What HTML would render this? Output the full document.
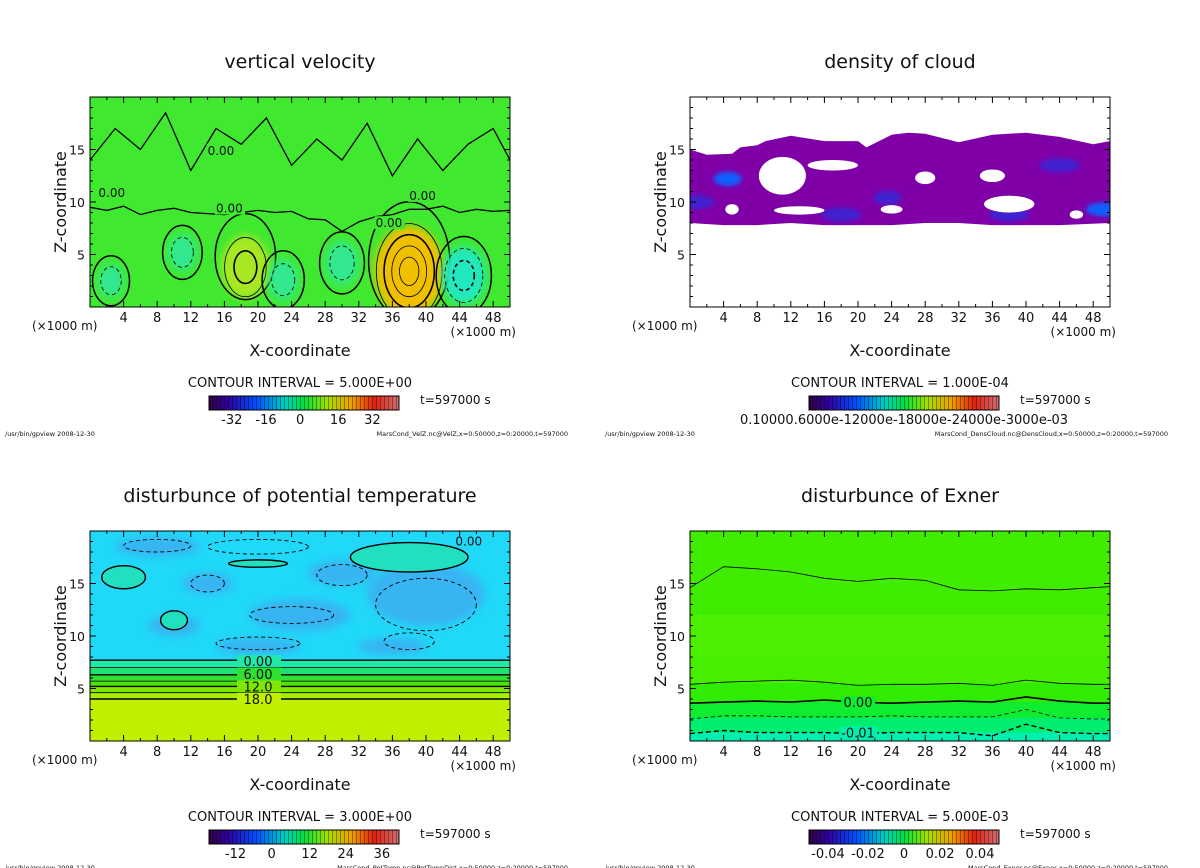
<!DOCTYPE html>
<html><head><meta charset="utf-8">
<style>
body{margin:0;background:#fff;width:1200px;height:868px;overflow:hidden;font-family:"Liberation Sans","DejaVu Sans",sans-serif;}
svg{display:block}
text{font-family:"DejaVu Sans","Liberation Sans",sans-serif;fill:#111}
</style></head>
<body>
<svg id="s" width="1200" height="868" xmlns="http://www.w3.org/2000/svg">
<defs>
<filter id="blur4" x="-50%" y="-50%" width="200%" height="200%"><feGaussianBlur stdDeviation="4"/></filter>
<filter id="blur2" x="-50%" y="-50%" width="200%" height="200%"><feGaussianBlur stdDeviation="2"/></filter>
<linearGradient id="rainbow" x1="0" x2="1" y1="0" y2="0">
<stop offset="0" stop-color="#300040"/><stop offset="0.1" stop-color="#3000a0"/><stop offset="0.25" stop-color="#0050ff"/>
<stop offset="0.4" stop-color="#00d0c0"/><stop offset="0.5" stop-color="#00e040"/><stop offset="0.62" stop-color="#a0e000"/>
<stop offset="0.75" stop-color="#f0a000"/><stop offset="0.87" stop-color="#e02010"/><stop offset="1" stop-color="#d07070"/>
</linearGradient>
<pattern id="stripes" width="4" height="14" patternUnits="userSpaceOnUse"><rect x="0" y="0" width="1" height="14" fill="#000" opacity="0.35"/></pattern>
<clipPath id="c0"><rect x="90" y="97" width="420" height="210"/></clipPath>
<clipPath id="c1"><rect x="690" y="97" width="420" height="210"/></clipPath>
<clipPath id="c2"><rect x="90" y="531" width="420" height="210"/></clipPath>
<clipPath id="c3"><rect x="690" y="531" width="420" height="210"/></clipPath>
</defs>
</svg>
<script>
// ---- data ----
const xTicks=[4,8,12,16,20,24,28,32,36,40,44,48];
const zTicks=[5,10,15];
const titles=["vertical velocity","density of cloud","disturbunce of potential temperature","disturbunce of Exner"];
const intervals=["CONTOUR INTERVAL = 5.000E+00","CONTOUR INTERVAL = 1.000E-04","CONTOUR INTERVAL = 3.000E+00","CONTOUR INTERVAL = 5.000E-03"];
const cbLabels=[["-32","-16","0","16","32"],["0.10000.6000e-12000e-18000e-24000e-3000e-03"],["-12","0","12","24","36"],["-0.04","-0.02","0","0.02","0.04"]];
const cbLabelPos=[[0.12,0.3,0.48,0.68,0.86],[0.5],[0.14,0.33,0.53,0.72,0.91],[0.1,0.31,0.5,0.69,0.9]];
const footers=["MarsCond_VelZ.nc@VelZ,x=0:50000,z=0:20000,t=597000","MarsCond_DensCloud.nc@DensCloud,x=0:50000,z=0:20000,t=597000","MarsCond_PotTemp.nc@PotTempDist,x=0:50000,z=0:20000,t=597000","MarsCond_Exner.nc@Exner,x=0:50000,z=0:20000,t=597000"];
const wX=[18.5,38,44.5,30,23,11,2.5];
const wZ=[3.8,3.4,3.0,4.2,2.6,5.2,2.5];
const wV=[14,22,-12,-8,-7,-6,-5];
const holeX=[11,17,28,5,13,24,38,36,46];
const holeZ=[12.5,13.5,12.3,9.3,9.2,9.3,9.8,12.5,8.8];
const denseX=[4.5,23.5,44,49.5,18,38,0.5];
const denseZ=[12.2,10.4,13.5,9.3,8.8,8.8,10];
const ptLevels=[7.7,7.0,6.3,5.7,5.2,4.6,4.0];
const ptLabels=["0.00","6.00","12.0","18.0"];
const ptLabelZ=[7.6,6.4,5.2,4.0];
const exX=[0,4,8,12,16,20,24,28,32,36,40,44,48,50];
const ex15=[14.6,16.6,16.4,16.1,15.5,15.2,15.5,15.3,14.4,14.3,14.5,14.4,14.6,14.7];
const ex55=[5.4,5.6,5.7,5.8,5.6,5.3,5.4,5.4,5.5,5.3,5.8,5.5,5.4,5.4];
const ex0=[3.6,3.7,3.8,3.7,3.9,3.7,3.6,3.7,3.8,3.7,4.2,3.8,3.6,3.6];
const exm1=[2.1,2.4,2.4,2.3,2.3,2.3,2.4,2.3,2.3,2.3,3.0,2.2,2.1,2.1];
const exm2=[0.7,1.0,0.8,0.8,0.8,0.7,0.8,0.8,0.8,0.5,1.6,0.8,0.7,0.7];
const islX=[38,20,4,10];const islZ=[17.5,16.9,15.6,11.5];const islRX=[7,3.5,2.6,1.6];const islRZ=[1.4,0.35,1.1,0.9];
const w0X=[0,2,4,6,8,10,12,14,16,18,20,22,24,26,28,30,32,34,36,38,40,42,44,46,48,50];
const w0Z=[9.5,9.2,9.6,8.8,9.2,9.4,9.0,8.9,8.8,9.0,9.2,9.0,9.1,8.4,8.3,7.2,8.1,8.6,8.8,9.3,9.3,9.6,9.0,9.3,9.1,9.2];
const wuX=[0,3,6,9,12,15,18,21,24,27,30,33,36,39,42,45,48,50];
const wuZ=[14,17,15,18.5,13,17,15.5,18,13.5,16,14,17.5,12.5,16,13,15.5,17,14];

const NS="http://www.w3.org/2000/svg";
const svg=document.getElementById('s');
function el(tag,attrs,parent){const e=document.createElementNS(NS,tag);for(const k in attrs)e.setAttribute(k,attrs[k]);(parent||svg).appendChild(e);return e;}
const OX=[0,600,0,600],OY=[0,0,434,434];
function X(p,x){return OX[p]+90+x*8.4;}
function Z(p,z){return OY[p]+307-z*10.5;}
function line(p,xs,zs){return xs.map((x,i)=>(i?'L':'M')+X(p,x).toFixed(1)+','+Z(p,zs[i]).toFixed(1)).join(' ');}

for(let p=0;p<4;p++){
  const g=el('g',{});
  
  
  const plot=el('g',{'clip-path':'url(#c'+p+')'},g);
  
  
  if(p===0){
    el('rect',{x:X(p,0),y:Z(p,20),width:420,height:215,fill:'#40e830'},plot);
    for(let i=0;i<wX.length;i++){
      const v=wV[i];const col=v>0?(v>18?'#f0c000':'#a8e820'):(v<-10?'#20e8c0':'#30e890');
      const e=el('ellipse',{cx:X(p,wX[i]),cy:Z(p,wZ[i]),rx:Math.abs(v)*1.3+6,ry:Math.abs(v)*1.7+8,fill:col,filter:'url(#blur4)'},plot);
      
      const levels=Math.floor(Math.abs(v)/5);
      for(let k=0;k<=levels;k++){
        const f=1-k/(levels+1);
        const c=el('ellipse',{cx:X(p,wX[i]),cy:Z(p,wZ[i]+(k===0&&v>0?1:0)),rx:(Math.abs(v)*1.3+10)*f+2,ry:(Math.abs(v)*2.0+12)*f+3,fill:'none',stroke:'#000','stroke-width':k===0?1.5:(k==2?1.6:0.8),'stroke-dasharray':(v<0&&k>0)?'4,3':'none'},plot);
        
      }
    }
    el('path',{d:line(p,w0X,w0Z),fill:'none',stroke:'#000','stroke-width':1.3},plot);
    el('path',{d:line(p,wuX,wuZ),fill:'none',stroke:'#000','stroke-width':1.3},plot);
    [['0.00',15,9.0],['0.00',34,7.6],['0.00',38,10.2],['0.00',14,14.5],['0.00',1,10.5]].forEach(t=>{el('rect',{x:X(p,t[1])-1,y:Z(p,t[2])-11,width:30,height:13,fill:'#40e830'},plot);const tt=el('text',{x:X(p,t[1]),y:Z(p,t[2]),'font-size':12},plot);tt.textContent=t[0];});
  }
  if(p===1){
    el('rect',{x:X(p,0),y:Z(p,20),width:420,height:215,fill:'#fff'},plot);
    el('path',{d:line(p,[0,0,2,5,6,8,9,12,16,20,21,24,26,28,32,36,40,44,48,50,50,44,40,36,32,28,24,20,16,12,8,4,0],[8,15,14.5,14.6,15.2,15.4,15.8,16.3,15.8,15.8,15.2,16.4,16.6,16.5,15.7,16.4,16.6,16.2,15.5,15.8,8,7.8,7.8,7.8,8,8,7.8,7.8,7.8,8,7.8,7.8,8]),fill:'#8000a8'},plot);
    for(let i=0;i<denseX.length;i++){
      const d=el('ellipse',{cx:X(p,denseX[i]),cy:Z(p,denseZ[i]),rx:i<2?14:20,ry:7,fill:i===0||i===3?'#1060ff':'#4020d0',filter:'url(#blur2)'},plot);
      
    }
    const rxh=[2.8,3,1.2,0.8,3,1.3,3,1.5,0.8],rzh=[1.8,0.5,0.6,0.5,0.4,0.4,0.8,0.6,0.4];
    for(let i=0;i<holeX.length;i++){
      const h=el('ellipse',{cx:X(p,holeX[i]),cy:Z(p,holeZ[i]),rx:rxh[i]*8.4,ry:rzh[i]*10.5,fill:'#fff'},plot);
      
    }
  }
  if(p===2){
    el('rect',{x:X(p,0),y:Z(p,20),width:420,height:215,fill:'#20d8f8'},plot);
    [[8,18.5,5,0.9],[14,15,3,1],[25,12,6,1.5],[40,14,7,3],[30,16,4,1.2],[20,9,5,0.8],[10,11,3,1],[36,9,4,0.8]].forEach(b=>{el('ellipse',{cx:X(p,b[0]),cy:Z(p,b[1]),rx:b[2]*8.4,ry:b[3]*10.5,fill:'#40a8f0',opacity:0.75,filter:'url(#blur4)'},plot);});
    const cols=['#20e8a8','#20e070','#30e030','#50e010','#80e800','#a8ee00','#c0f000'];
    for(let i=0;i<ptLevels.length;i++){
      const b=el('rect',{x:X(p,0),y:Z(p,ptLevels[i]),width:420,height:Z(p,0)-Z(p,ptLevels[i])+5,fill:cols[i]},plot);
      
    }
    for(let i=0;i<ptLevels.length;i++){
      el('line',{x1:X(p,0),x2:X(p,50),y1:Z(p,ptLevels[i]),y2:Z(p,ptLevels[i]),stroke:'#000','stroke-width':i%2===0?1.4:0.8},plot);
    }
    for(let i=0;i<ptLabels.length;i++){
      el('rect',{x:X(p,17.5),y:Z(p,ptLabelZ[i])-6,width:44,height:12,fill:cols[i*2]},plot);
      const t=el('text',{x:X(p,20),y:Z(p,ptLabelZ[i])+5,'font-size':13,'text-anchor':'middle'},plot);t.textContent=ptLabels[i];
    }
    for(let i=0;i<islX.length;i++){
      const c=el('ellipse',{cx:X(p,islX[i]),cy:Z(p,islZ[i]),rx:islRX[i]*8.4,ry:islRZ[i]*10.5,fill:'#20e0c0',stroke:'#000','stroke-width':1.4},plot);
      
    }
    [[20,18.5,6,0.7],[14,15,2,0.8],[24,12,5,0.8],[40,13,6,2.5],[30,15.8,3,1],[20,9.3,5,0.6],[38,9.5,3,0.8],[8,18.6,4,0.6]].forEach(b=>{el('ellipse',{cx:X(p,b[0]),cy:Z(p,b[1]),rx:b[2]*8.4,ry:b[3]*10.5,fill:'none',stroke:'#000','stroke-width':0.9,'stroke-dasharray':'4,3'},plot);});
    const t=el('text',{x:X(p,43.5),y:Z(p,18.6),'font-size':12},plot);t.textContent='0.00';
  }
  if(p===3){
    const bands=[[20,'#40ec00'],[12,'#4cf000'],[8,'#48ee00'],[5.5,'#30ec00'],[3.7,'#10ec30'],[2.2,'#00ee70'],[0.8,'#00f0b0']];
    bands.forEach(b=>{el('rect',{x:X(p,0),y:Z(p,b[0]),width:420,height:Z(p,0)-Z(p,b[0])+5,fill:b[1]},plot);});
    el('path',{d:line(p,exX,ex15),fill:'none',stroke:'#000','stroke-width':0.8},plot);
    el('path',{d:line(p,exX,ex55),fill:'none',stroke:'#000','stroke-width':0.8},plot);
    const l0=el('path',{d:line(p,exX,ex0),fill:'none',stroke:'#000','stroke-width':1.6},plot);
    
    el('path',{d:line(p,exX,exm1),fill:'none',stroke:'#000','stroke-width':0.8,'stroke-dasharray':'4,3'},plot);
    el('path',{d:line(p,exX,exm2),fill:'none',stroke:'#000','stroke-width':1.4,'stroke-dasharray':'5,3'},plot);
    el('rect',{x:X(p,18),y:Z(p,3.7)-6,width:34,height:12,fill:'#10ec30'},plot);
    let t=el('text',{x:X(p,20),y:Z(p,3.7)+5,'font-size':13,'text-anchor':'middle'},plot);t.textContent='0.00';
    el('rect',{x:X(p,18),y:Z(p,0.8)-6,width:36,height:12,fill:'#00f0b0'},plot);
    t=el('text',{x:X(p,20),y:Z(p,0.8)+5,'font-size':13,'text-anchor':'middle'},plot);t.textContent='-0.01';
  }
  const fr=el('rect',{x:X(p,0),y:Z(p,20),width:420,height:210,fill:'none',stroke:'#000','stroke-width':1},g);
  
  for(let x=2;x<50;x+=2){const L=x%4===0?6:3;
    el('line',{x1:X(p,x),x2:X(p,x),y1:OY[p]+307,y2:OY[p]+307-L,stroke:'#000'},g);
    el('line',{x1:X(p,x),x2:X(p,x),y1:OY[p]+97,y2:OY[p]+97+L,stroke:'#000'},g);}
  for(let z=1;z<20;z++){const L=z%5===0?6:3;
    el('line',{x1:X(p,0),x2:X(p,0)+L,y1:Z(p,z),y2:Z(p,z),stroke:'#000'},g);
    el('line',{x1:X(p,50),x2:X(p,50)-L,y1:Z(p,z),y2:Z(p,z),stroke:'#000'},g);}
  xTicks.forEach(x=>{const t=el('text',{x:X(p,x),y:OY[p]+322,'font-size':13,'text-anchor':'middle'},g);t.textContent=x;});
  zTicks.forEach(z=>{const t=el('text',{x:OX[p]+85,y:Z(p,z)+5,'font-size':12.5,'text-anchor':'end'},g);t.textContent=z;});
  let t=el('text',{x:OX[p]+32,y:OY[p]+330,'font-size':12},g);t.textContent='(×1000 m)';
  t=el('text',{x:OX[p]+516,y:OY[p]+336,'font-size':12,'text-anchor':'end'},g);t.textContent='(×1000 m)';
  t=el('text',{x:OX[p]+300,y:OY[p]+356,'font-size':16,'text-anchor':'middle'},g);t.textContent='X-coordinate';
  t=el('text',{x:OX[p]+66,y:OY[p]+202,'font-size':16,'text-anchor':'middle',transform:'rotate(-90 '+(OX[p]+66)+' '+(OY[p]+202)+')'},g);t.textContent='Z-coordinate';
  t=el('text',{x:OX[p]+300,y:OY[p]+68,'font-size':19,'text-anchor':'middle'},g);t.textContent=titles[p];
  t=el('text',{x:OX[p]+300,y:OY[p]+387,'font-size':13,'text-anchor':'middle'},g);t.textContent=intervals[p];
  const cb=el('g',{},g);
  el('rect',{x:OX[p]+209,y:OY[p]+396,width:190,height:14,fill:'url(#rainbow)'},cb);
  el('rect',{x:OX[p]+209,y:OY[p]+396,width:190,height:14,fill:'url(#stripes)'},cb);
  el('rect',{x:OX[p]+209,y:OY[p]+396,width:190,height:14,fill:'none',stroke:'#000'},cb);
  cbLabels[p].forEach((s,i)=>{const tt=el('text',{x:OX[p]+209+190*cbLabelPos[p][i],y:OY[p]+424,'font-size':13,'text-anchor':'middle'},cb);tt.textContent=s;});
  t=el('text',{x:OX[p]+420,y:OY[p]+404,'font-size':12},g);t.textContent='t=597000 s';
  t=el('text',{x:OX[p]+5,y:OY[p]+436,'font-size':6.5},g);t.textContent='/usr/bin/gpview   2008-12-30';
  t=el('text',{x:OX[p]+568,y:OY[p]+436,'font-size':6.5,'text-anchor':'end'},g);t.textContent=footers[p];
}
</script>
</body></html>
